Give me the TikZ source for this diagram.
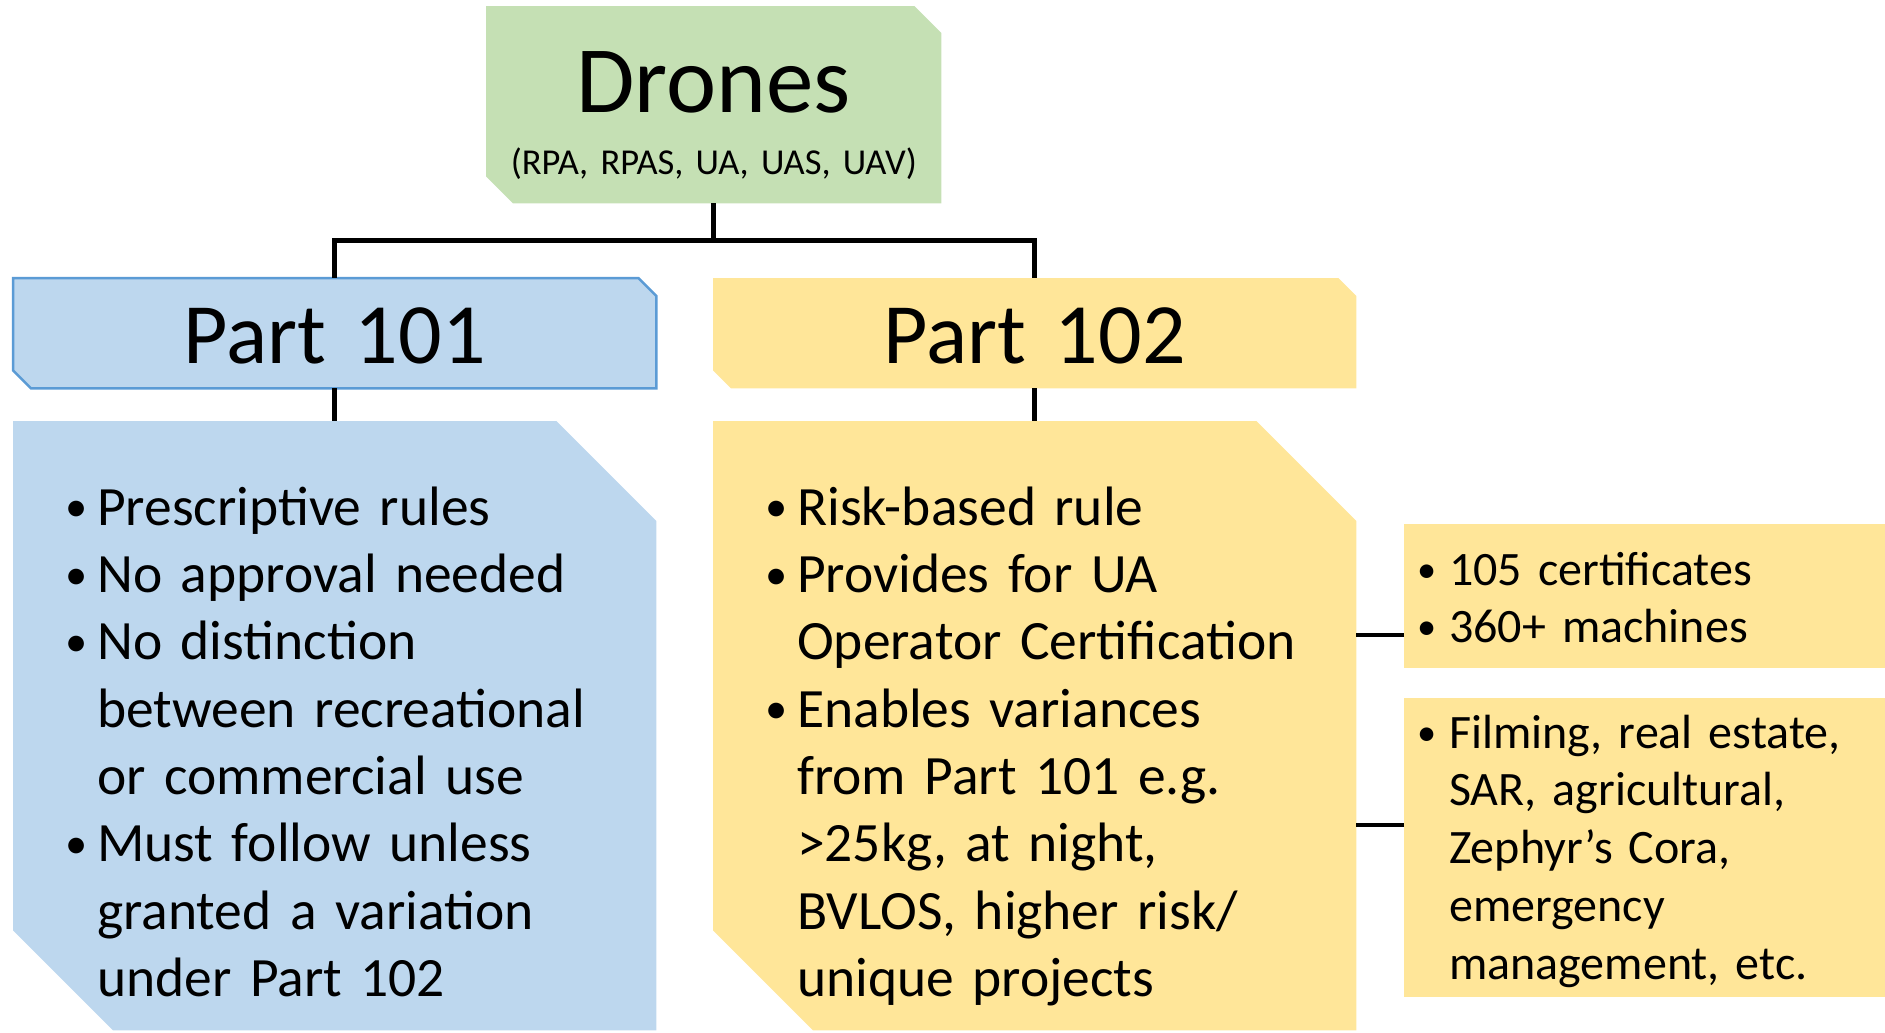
\documentclass[tikz,border=0pt]{standalone}
\usepackage{fontspec}
\setmainfont{Carlito}[WordSpace=0.6]
\usetikzlibrary{backgrounds}

\definecolor{dronegreen}{HTML}{C5E0B4}
\definecolor{partblue}{HTML}{BDD7EE}
\definecolor{blueline}{HTML}{5B9BD5}
\definecolor{partyellow}{HTML}{FFE699}

\newcommand{\dotitem}{\makebox[32bp][l]{\raisebox{.06em}{\scalebox{.8}{•}}}}
\newcommand{\skipitem}{\hspace*{32bp}}
\newcommand{\cutcorners}[3]{%
  \path[#3] (#1.north west) -- ([xshift=-#2]#1.north east)
    -- ([yshift=-#2]#1.north east) -- (#1.south east)
    -- ([xshift=#2]#1.south west) -- ([yshift=#2]#1.south west) -- cycle;}

\begin{document}
\begin{tikzpicture}[x=1bp, y=-1bp,
    base/.style = {rectangle, inner sep=0pt, anchor=north west},
    head/.style = {base, text width=643bp, align=center,
text height=85bp, text depth=25bp, font=\fontsize{86bp}{100bp}\selectfont},
    list/.style = {base, inner xsep=52bp, text width=539bp, align=left,
text height=104bp, text depth=505bp, font=\fontsize{55.5bp}{67.3bp}\selectfont},
    side/.style = {base, inner xsep=13bp, text width=455bp, align=left,
font=\fontsize{48bp}{57.5bp}\selectfont},
    link/.style = {line width=4.5bp, black}
]
  \useasboundingbox (0,0) rectangle (1885,1032);

  \node (drones) [base, text width=455bp, align=center, text height=106bp, text depth=91bp,
    font=\fontsize{36.5bp}{62bp}\selectfont]
    at (486,6) {{\fontsize{95bp}{95bp}\selectfont Drones}\\(RPA, RPAS, UA, UAS, UAV)};

  \node (p101) [head] at (13,278) {Part 101};
  \node (p102) [head] at (713,278) {Part 102};

  \node (b101) [list] at (13,421) {\dotitem Prescriptive rules\\
    \dotitem No approval needed\\
    \dotitem No distinction\\
    \skipitem between recreational\\
    \skipitem or commercial use\\
    \dotitem Must follow unless\\
    \skipitem granted a variation\\
    \skipitem under Part 102};
  \node (b102) [list] at (713,421) {\dotitem Risk-based rule\\
    \dotitem Provides for UA\\
    \skipitem Operator Certification\\
    \dotitem Enables variances\\
    \skipitem from Part 101 e.g.\\
    \skipitem >25kg, at night,\\
    \skipitem BVLOS, higher risk/\\
    \skipitem unique projects};

  \node (cert) [side, text height=61bp, text depth=83bp] at (1404,524)
    {\dotitem 105 certificates\\ \dotitem 360+ machines};
  \node (uses) [side, text height=50bp, text depth=249bp,
    font=\fontsize{48bp}{57.7bp}\selectfont] at (1404,698)
    {\dotitem Filming, real estate,\\
    \skipitem SAR, agricultural,\\
    \skipitem Zephyr’s Cora,\\
    \skipitem emergency\\
    \skipitem management, etc.};

  % boxes behind the text
  \begin{scope}[on background layer]
    \cutcorners{drones}{27bp}{fill=dronegreen}
    \cutcorners{p101}{18bp}{fill=partblue, draw=blueline, line width=2.5bp}
    \cutcorners{p102}{18bp}{fill=partyellow}
    \cutcorners{b101}{100bp}{fill=partblue}
    \cutcorners{b102}{100bp}{fill=partyellow}
    \fill[partyellow] (cert.north west) rectangle (cert.south east);
    \fill[partyellow] (uses.north west) rectangle (uses.south east);
  \end{scope}

  \draw[link] (drones.south) -- ++(0,37) -| (p101.north);
  \draw[link] (drones.south) -- ++(0,37) -| (p102.north);
  \draw[link] (p101) -- (b101);
  \draw[link] (p102) -- (b102);

  \coordinate (certin) at ([yshift=-111bp]cert.north west);
  \coordinate (usesin) at ([yshift=-127bp]uses.north west);
  \draw[link] (certin) -- (certin -| b102.east);
  \draw[link] (usesin) -- (usesin -| b102.east);

\end{tikzpicture}
\end{document}
